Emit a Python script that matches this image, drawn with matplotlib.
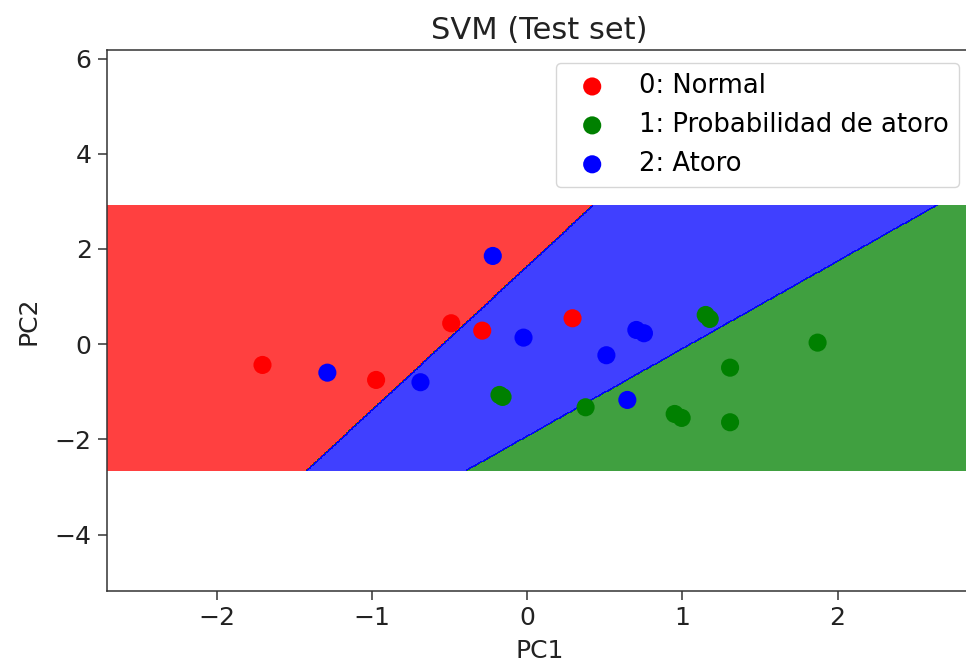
import numpy as np
import matplotlib
matplotlib.use("Agg")
import matplotlib.pyplot as plt
from matplotlib.colors import ListedColormap

# ---- data ----
class_names = ["0: Normal", "1: Probabilidad de atoro", "2: Atoro"]
class_colors = ["red", "green", "blue"]

pc1_normal = [-1.706, -0.974, -0.490, -0.290, 0.292]
pc2_normal = [-0.437, -0.752, 0.439, 0.284, 0.544]

pc1_prob = [-0.179, -0.159, 0.376, 0.950, 0.995, 1.150, 1.176, 1.307, 1.307, 1.871]
pc2_prob = [-1.067, -1.109, -1.326, -1.467, -1.550, 0.613, 0.529, -0.494, -1.641, 0.032]

pc1_atoro = [-0.222, -1.288, -0.688, -0.024, 0.510, 0.645, 0.703, 0.752]
pc2_atoro = [1.853, -0.599, -0.800, 0.137, -0.233, -1.172, 0.298, 0.229]

# decision boundaries: x = intercept + slope * y
boundary_intercepts = [-0.542, 1.050]
boundary_slopes = [0.331, 0.544]

# extent of the evaluated decision grid
grid_x_range = [-2.706, 2.871]
grid_y_range = [-2.655, 2.924]
y_limits = [-5.18, 6.18]

# ---- figure ----
fig = plt.figure(figsize=(9.66, 6.68), dpi=100)
ax = fig.add_axes([107.3 / 966, (668 - 590.7) / 668, 864.4 / 966, (590.7 - 50) / 668])

X1, X2 = np.meshgrid(np.arange(grid_x_range[0], grid_x_range[1], 0.01),
                     np.arange(grid_y_range[0], grid_y_range[1], 0.01))
line1 = boundary_intercepts[0] + boundary_slopes[0] * X2
line2 = boundary_intercepts[1] + boundary_slopes[1] * X2
Z = np.full(X1.shape, 2.0)
Z[X1 < line1] = 0
Z[X1 > line2] = 1
ax.contourf(X1, X2, Z, alpha=0.75, cmap=ListedColormap(class_colors))

ax.set_xlim(X1.min(), X1.max())
ax.set_ylim(*y_limits)

groups = [(pc1_normal, pc2_normal), (pc1_prob, pc2_prob), (pc1_atoro, pc2_atoro)]
for (xs, ys), col, name in zip(groups, class_colors, class_names):
    ax.scatter(xs, ys, color=col, label=name, s=170, edgecolors="none")

ax.set_title("SVM (Test set)", fontsize=22, pad=8, color="#222222")
ax.set_xlabel("PC1", fontsize=18, labelpad=6.5, color="#222222")
ax.set_ylabel("PC2", fontsize=18, labelpad=10, color="#222222")
ax.tick_params(labelsize=18, length=6.5, width=1.1, pad=4.7, colors="#333333", labelcolor="#222222")
for s in ax.spines.values():
    s.set_linewidth(1.1)
    s.set_color("#333333")
ax.set_yticks([-4, -2, 0, 2, 4, 6])
ax.set_xticks([-2, -1, 0, 1, 2])

ax.legend(loc="upper right", fontsize=18.6)

fig.savefig("out.png", dpi=100)
